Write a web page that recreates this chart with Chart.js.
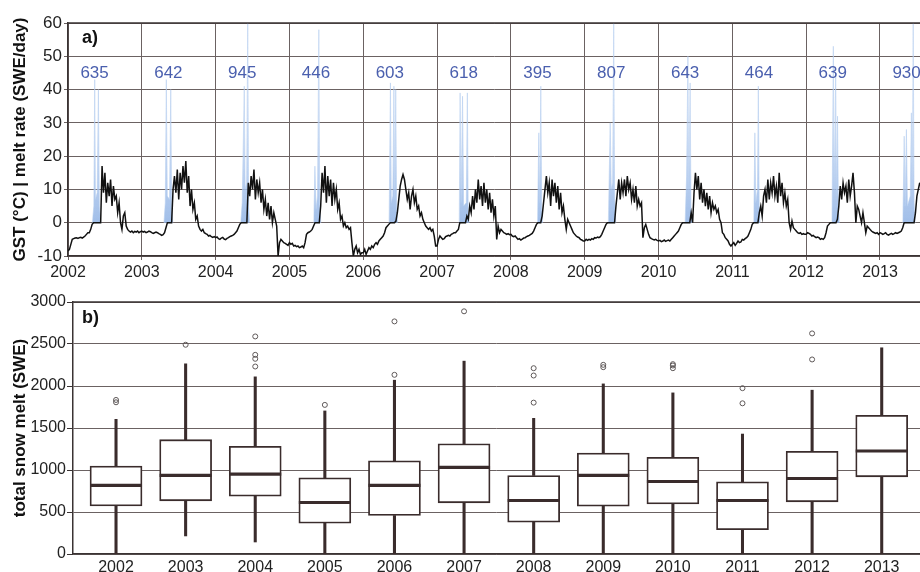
<!DOCTYPE html>
<html>
<head>
<meta charset="utf-8">
<script src="https://cdn.jsdelivr.net/npm/chart.js@4.4.1/dist/chart.umd.min.js"></script>
<style>
html, body { margin: 0; padding: 0; background: #fff; overflow: hidden; }
#wrap { position: relative; width: 920px; height: 572px; }
#chartA { position: absolute; left: 0; top: 0; }
#chartB { position: absolute; left: 0; top: 285px; }
</style>
</head>
<body>
<div id="wrap">
  <canvas id="chartA" width="920" height="285"></canvas>
  <canvas id="chartB" width="920" height="287"></canvas>
</div>
<script>
// --- data -------------------------------------------------------------
const years = [2002, 2003, 2004, 2005, 2006, 2007, 2008, 2009, 2010, 2011, 2012, 2013];

// panel a: ground surface temperature, one value per week (52 per year)
const gst2002 = [-8.5,-8,-6.5,-5,-4.8,-4.6,-4.5,-4.7,-4.5,-4.4,-4.6,-4.3,-4,-3.5,-3,-3,-2,-0.5,0,0,0,0,0,0,17,9,15,6,12,8,13,5,11,7,8,3,6,0,-2,2,3,-1,-2,-2.5,-2.8,-2.5,-3,-2.6,-2.8,-2.5,-3,-2.7];
const gst2003 = [-2.5,-2.8,-2.6,-3,-2.8,-2.5,-2.7,-3,-3.2,-3,-2.8,-3,-3.3,-3.5,-3.8,-3.6,-3,-1.5,0,0,0,0,10,14,9,16,7,15,10,17,12,18.5,9,14,5,10,4,6,1,2,-1,-2,-2.5,-2,-3,-3.3,-3.5,-4,-3.8,-4.2,-4.4,-4.2];
const gst2004 = [-4.5,-4.3,-4.8,-5,-4.6,-4.4,-4.9,-5.1,-4.7,-4.5,-4.2,-4,-3.8,-3.5,-3,-2.5,-1.5,-0.5,0,0,0,0,0,12,8,14,10,16,7,13,9,12,6,10,4,7,2,6,1,5,0,3,1,-1,-10,-6,-5,-5.5,-6,-6.2,-6.5,-6.8];
const gst2005 = [-6,-6.5,-6.2,-7,-6.8,-7.2,-7,-7.5,-7.3,-7,-7.5,-6,-3.5,-3,-2.8,-2.5,-2,-1,0,0,0,0,5,15,9,17,6,14,8,13,5,12,7,10,4,6,1,2,-1,0,-1.5,-1,-2,-1.5,-6,-10,-8,-7,-9,-8,-9.5,-9];
const gst2006 = [-9,-8,-9.5,-8.5,-7.5,-8,-7,-7.5,-6.5,-6,-6.5,-5.5,-5,-4.5,-4,-3,-1.5,-1,-0.5,0,0,0,0,0.5,3,7,11,13,14.5,13,10,7,9,4,8,10,6,8,4,5,2,3,1,0,-1,-1.5,-2,-1.5,-2.5,-2,-4,-7];
const gst2007 = [-7,-5,-4,-4.5,-5,-4.8,-4.2,-4,-3.8,-4,-3.5,-3.3,-3,-3,-2.5,-2,0,0,0,0,0,2,1,5,3,8,4,10,6,13,7,11,5,12,6,10,4,9,3,7,2,5,-5,-1,-3,-2,-2.5,-3,-3.2,-3.5,-3.3,-3.6];
const gst2008 = [-3.5,-4,-4.2,-4,-4.5,-5,-4.8,-5.2,-4.9,-4.6,-4.5,-4.2,-4,-3.8,-3.5,-3.2,-2.5,-1.5,-0.5,0,0,0,2,6,10,14,9,12,5,13,8,12,6,11,4,9,3,5,1,-2,1,0,-1,-2,-3,-3.5,-4,-4.3,-4.5,-5,-5.2,-5.5];
const gst2009 = [-5.5,-5,-5.3,-5,-5.2,-4.8,-5,-4.5,-4.6,-4.3,-4.5,-4.2,-3.5,-2.5,-1.5,-0.5,0,0,0,0,0,0,5,9,13,7,12,9,13,8,14,10,12,7,10,6,11,5,7,5,6,-4.5,-1.5,-0.5,-2,-3.5,-4.5,-4.8,-5,-5.2,-5,-5.3];
const gst2010 = [-5.5,-5.3,-5.7,-5.5,-5.2,-5.6,-5.4,-5.2,-5.5,-5,-4.5,-4,-3.5,-3,-2.5,-1.5,-0.5,0,0,0,0,0,0,3,0,9,15,10,14,7,12,6,10,5,9,4,8,3,6,4,5,3,4,1,0,-3,-3.5,-4.5,-5,-5.5,-6.5,-7];
const gst2011 = [-6.5,-6,-6.8,-6.2,-5.5,-6,-5.8,-5,-5.2,-4.8,-4.5,-4,-3,-2,-0.5,0,0,0,0,3,5,2,8,10,6,13,7,12,9,14,8,11,6,15,8,12,6,9,5,7,0,-2,0.5,-1.5,-2,-2.5,-3,-3.2,-3,-3.5,-3.3,-3.5];
const gst2012 = [-3.5,-3,-3.2,-3.5,-4,-3.8,-4.2,-4.5,-4.3,-4.5,-5,-4.8,-5,-4.5,-3,-1,-0.5,0,0,0,0,0,1,5,11,7,12,9,11,6,13,8,11,15,9,0,5,4,2,0,3,0,-3,-1,-1.5,-2,-2.5,-2.8,-3,-3.2,-3,-3.5];
const gst2013 = [-3,-3.2,-3.5,-3.3,-3,-3.5,-3.7,-3.4,-3.2,-3.5,-3.3,-3,-3.2,-3,-2.8,-2.5,-1.5,0,0,0,0,0,0,0,0,3,8,10,12];

// panel a: daily melt rate peaks [decimal year, SWE/day]
const meltEvents = [
  [[2002.330,0],[2002.350,5],[2002.362,43],[2002.372,7],[2002.395,9],[2002.412,40],[2002.425,5],[2002.445,0]],
  [[2003.300,0],[2003.318,6],[2003.332,43],[2003.345,8],[2003.375,7],[2003.392,40],[2003.405,4],[2003.420,0]],
  [[2004.340,0],[2004.360,6],[2004.388,41],[2004.400,10],[2004.420,12],[2004.435,60],[2004.447,5],[2004.460,0]],
  [[2005.330,0],[2005.345,17],[2005.360,4],[2005.380,8],[2005.398,58],[2005.410,5],[2005.425,0]],
  [[2006.350,0],[2006.368,42],[2006.380,6],[2006.400,8],[2006.415,41],[2006.428,7],[2006.440,40],[2006.452,4],[2006.465,0]],
  [[2007.300,0],[2007.312,39],[2007.325,6],[2007.345,38],[2007.360,5],[2007.395,6],[2007.410,39],[2007.422,3],[2007.435,0]],
  [[2008.360,0],[2008.378,27],[2008.390,6],[2008.405,41],[2008.418,4],[2008.430,0]],
  [[2009.320,0],[2009.345,30],[2009.360,10],[2009.378,12],[2009.393,60],[2009.405,8],[2009.420,0]],
  [[2010.360,0],[2010.380,14],[2010.398,50],[2010.410,10],[2010.428,42],[2010.440,4],[2010.455,0]],
  [[2011.290,0],[2011.305,27],[2011.318,6],[2011.340,10],[2011.352,41],[2011.364,5],[2011.375,0]],
  [[2012.350,0],[2012.368,53],[2012.380,10],[2012.400,45],[2012.412,8],[2012.425,32],[2012.437,4],[2012.450,0]],
  [[2013.310,0],[2013.328,26],[2013.340,5],[2013.358,28],[2013.372,5],[2013.410,8],[2013.425,33],[2013.437,10],[2013.450,60],[2013.462,6],[2013.475,0]]
];

// yearly melt totals written above the peaks
const meltTotals = ['635', '642', '945', '446', '603', '618', '395', '807', '643', '464', '639', '930'];

// panel b: box plot statistics of total snow melt (SWE)
const whiskerLow  = [0, 215, 143, 0, 0, 0, 0, 0, 0, 0, 0, 0];
const q1          = [573, 633, 688, 366, 458, 609, 378, 569, 597, 290, 621, 919];
const median      = [816, 935, 951, 613, 816, 1031, 637, 935, 863, 637, 899, 1226];
const q3          = [1046, 1361, 1281, 907, 1110, 1313, 935, 1202, 1150, 859, 1222, 1651];
const whiskerHigh = [1603, 2264, 2109, 1703, 2069, 2296, 1615, 2025, 1918, 1428, 1950, 2455];
const outliers = [[1834, 1806], [2491], [2590, 2371, 2324, 2232], [1775], [2769, 2133], [2889],
                  [2212, 2125, 1802], [2252, 2224], [2260, 2244, 2212], [1974, 1794], [2626, 2316], []];

// --- styles -----------------------------------------------------------
const SANS = '"Liberation Sans", Arial, Helvetica, sans-serif';
const NARROW = '"Liberation Sans Narrow", "Liberation Sans", Arial, sans-serif';
const gridColor = '#6b6262';
const axisColor = '#3a3333';
const boxColor = '#3a2c2c';

// --- build points -----------------------------------------------------
const gstSeries = [gst2002, gst2003, gst2004, gst2005, gst2006, gst2007, gst2008, gst2009, gst2010, gst2011, gst2012, gst2013];
const gstPoints = [];
gstSeries.forEach((vals, i) => {
    vals.forEach((v, w) => gstPoints.push({ x: years[i] + w / 52, y: v }));
});

const meltPoints = [];
meltEvents.forEach(ev => {
    ev.forEach(p => meltPoints.push({ x: p[0], y: p[1] }));
    meltPoints.push({ x: ev[ev.length - 1][0] + 0.001, y: null }); // break between years
});

const outlierPoints = [];
outliers.forEach((list, i) => list.forEach(v => outlierPoints.push({ x: years[i], y: v })));

// --- helpers ----------------------------------------------------------
function meltFill(context) {
    const chart = context.chart;
    if (!chart.chartArea) return 'rgba(160,190,232,0.7)';
    const y = chart.scales.y;
    const g = chart.ctx.createLinearGradient(0, y.getPixelForValue(0), 0, y.getPixelForValue(60));
    g.addColorStop(0, 'rgba(150,183,230,0.9)');
    g.addColorStop(0.35, 'rgba(175,200,238,0.7)');
    g.addColorStop(1, 'rgba(225,234,250,0.35)');
    return g;
}

// top frame line + panel letter
const framePlugin = {
    id: 'frame',
    afterDraw(chart, args, opts) {
        const { ctx, chartArea } = chart;
        ctx.save();
        ctx.strokeStyle = axisColor;
        ctx.lineWidth = 1.5;
        ctx.beginPath();
        ctx.moveTo(chartArea.left, chartArea.top);
        ctx.lineTo(chartArea.right, chartArea.top);
        ctx.stroke();
        ctx.font = 'bold 18px ' + SANS;
        ctx.fillStyle = '#111';
        ctx.textAlign = 'left';
        ctx.textBaseline = 'middle';
        ctx.fillText(opts.tag, chartArea.left + opts.dx, chartArea.top + opts.dy);
        ctx.restore();
    }
};

// yearly totals above the melt peaks (panel a)
const totalsPlugin = {
    id: 'totals',
    afterDatasetsDraw(chart) {
        const { ctx, scales } = chart;
        ctx.save();
        ctx.font = '17px ' + SANS;
        ctx.fillStyle = '#4a5fae';
        ctx.textAlign = 'center';
        ctx.textBaseline = 'middle';
        meltTotals.forEach((t, i) => {
            ctx.fillText(t, scales.x.getPixelForValue(years[i] + 0.36), scales.y.getPixelForValue(45));
        });
        ctx.restore();
    }
};

// --- panel a ----------------------------------------------------------
new Chart(document.getElementById('chartA'), {
    type: 'line',
    data: {
        datasets: [
            { label: 'GST', data: gstPoints, borderColor: '#111', borderWidth: 1.5,
              pointRadius: 0, tension: 0, fill: false, order: 0 },
            { label: 'melt rate', data: meltPoints, borderColor: 'rgba(180,204,238,0.7)', borderWidth: 0.8,
              backgroundColor: meltFill, fill: 'origin', pointRadius: 0, tension: 0, order: 1 }
        ]
    },
    options: {
        responsive: false,
        animation: false,
        devicePixelRatio: 1,
        layout: { autoPadding: false, padding: { top: 23, left: 0, right: 0, bottom: 0 } },
        plugins: {
            legend: { display: false },
            tooltip: { enabled: false },
            frame: { tag: 'a)', dx: 14, dy: 15.5 }
        },
        scales: {
            x: {
                type: 'linear',
                min: 2002,
                max: 2013.542,
                afterBuildTicks: s => { s.ticks = years.map(v => ({ value: v })); },
                afterFit: s => { s.height = 29; },
                ticks: { font: { family: NARROW, size: 16 }, color: '#222', padding: 3,
                         maxRotation: 0, autoSkip: false, callback: v => String(v) },
                grid: { color: gridColor, lineWidth: 1, tickLength: 4 },
                border: { color: axisColor, width: 1.5 }
            },
            y: {
                min: -10,
                max: 60,
                afterFit: s => { s.width = 68; },
                ticks: { stepSize: 10, font: { family: SANS, size: 17 }, color: '#222', padding: 2 },
                grid: { color: gridColor, lineWidth: 1, tickLength: 4 },
                border: { color: axisColor, width: 1.5 },
                title: { display: true, text: 'GST (°C) | melt rate (SWE/day)', color: '#111',
                         font: { family: SANS, size: 17, weight: 'bold' }, padding: { top: 10, bottom: 0 } }
            }
        }
    },
    plugins: [framePlugin, totalsPlugin]
});

// --- panel b ----------------------------------------------------------
new Chart(document.getElementById('chartB'), {
    type: 'bar',
    data: {
        datasets: [
            { type: 'scatter', label: 'median', data: years.map((yr, i) => ({ x: yr, y: median[i] })),
              pointStyle: 'line', pointRadius: 26, borderWidth: 3.2, borderColor: boxColor, order: 0 },
            { type: 'scatter', label: 'outliers', data: outlierPoints, pointStyle: 'circle', pointRadius: 2.5,
              borderWidth: 1, borderColor: '#5e5858', backgroundColor: 'rgba(255,255,255,0)', order: 1 },
            { label: 'box', data: years.map((yr, i) => ({ x: yr, y: [q1[i], q3[i]] })),
              backgroundColor: '#fff', borderColor: boxColor, borderWidth: 1.8, borderSkipped: false,
              barThickness: 52, grouped: false, order: 2 },
            { label: 'lower whisker', data: years.map((yr, i) => ({ x: yr, y: [whiskerLow[i], q1[i]] })),
              backgroundColor: boxColor, borderWidth: 0, barThickness: 2.4, grouped: false, order: 3 },
            { label: 'upper whisker', data: years.map((yr, i) => ({ x: yr, y: [q3[i], whiskerHigh[i]] })),
              backgroundColor: boxColor, borderWidth: 0, barThickness: 2.4, grouped: false, order: 3 }
        ]
    },
    options: {
        responsive: false,
        animation: false,
        devicePixelRatio: 1,
        layout: { autoPadding: false, padding: { top: 17, left: 0, right: 0, bottom: 0 } },
        plugins: {
            legend: { display: false },
            tooltip: { enabled: false },
            frame: { tag: 'b)', dx: 9, dy: 16 }
        },
        scales: {
            x: {
                type: 'linear',
                min: 2001.382,
                max: 2013.55,
                offset: false,
                afterBuildTicks: s => { s.ticks = years.map(v => ({ value: v })); },
                afterFit: s => { s.height = 18; },
                ticks: { font: { family: SANS, size: 16 }, color: '#222', padding: 4,
                         maxRotation: 0, autoSkip: false, callback: v => String(v) },
                grid: { display: false, offset: false, drawTicks: false },
                border: { color: axisColor, width: 1.5 }
            },
            y: {
                min: 0,
                max: 3000,
                afterFit: s => { s.width = 73; },
                ticks: { stepSize: 500, font: { family: SANS, size: 16 }, color: '#222', padding: 1,
                         callback: v => String(v) },
                grid: { color: gridColor, lineWidth: 1, tickLength: 6, tickColor: axisColor },
                border: { color: axisColor, width: 1.5 },
                title: { display: true, text: 'total snow melt (SWE)', color: '#111',
                         font: { family: SANS, size: 17, weight: 'bold' }, padding: { top: 10, bottom: 0 } }
            }
        }
    },
    plugins: [framePlugin]
});
</script>
</body>
</html>
